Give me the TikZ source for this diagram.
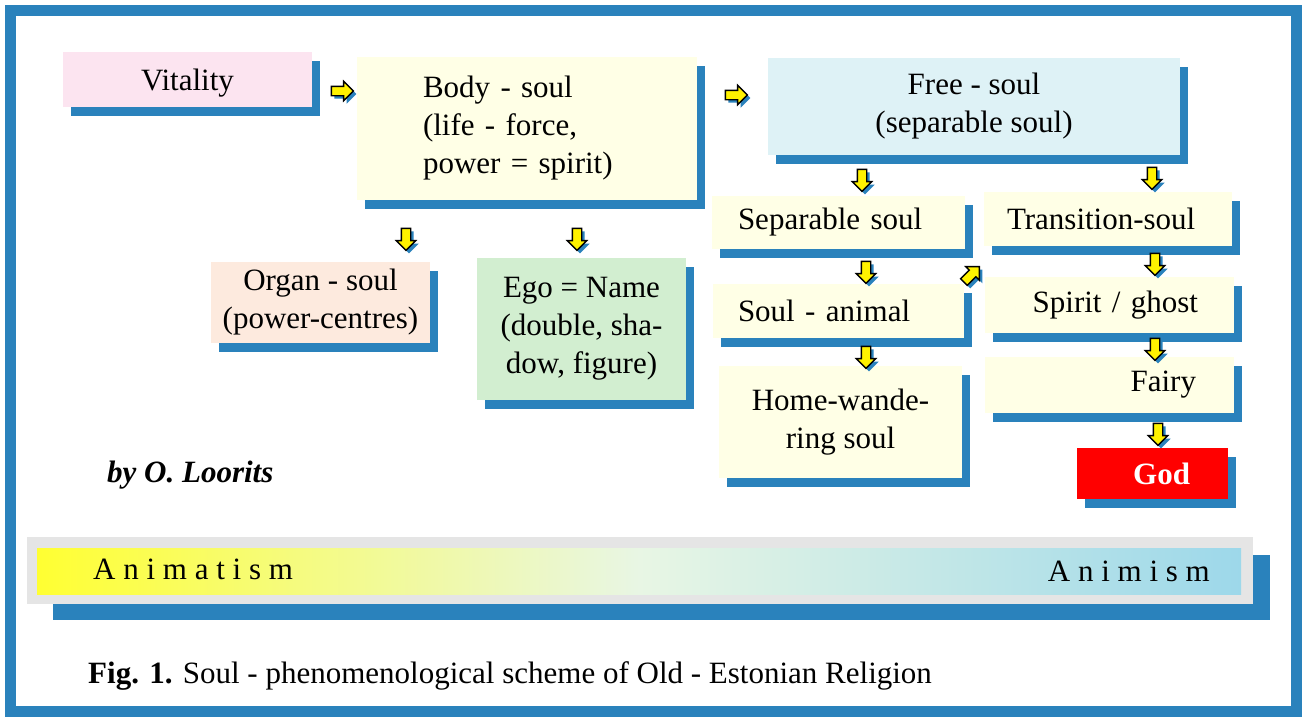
\documentclass[tikz,border=0pt]{standalone}
\usepackage{fontspec}
\setmainfont{Liberation Serif}
\usetikzlibrary{shapes.arrows,shadows}
\definecolor{sblue}{RGB}{42,130,188}
\definecolor{cpink}{RGB}{252,228,240}
\definecolor{ccream}{RGB}{255,255,230}
\definecolor{ccyan}{RGB}{222,242,246}
\definecolor{cpeach}{RGB}{253,234,222}
\definecolor{cgreen}{RGB}{210,238,208}
\definecolor{cgrey}{RGB}{229,229,229}
\definecolor{gyel}{RGB}{255,255,50}
\definecolor{gmid}{RGB}{232,246,228}
\definecolor{gblu}{RGB}{157,216,234}
\begin{document}
\begin{tikzpicture}[x=1pt,y=-1pt,
  tf/.style={font=\fontsize{31}{38}\selectfont},
  box/.style={tf, inner sep=0pt, draw=none,
    drop shadow={shadow xshift=8pt, shadow yshift=-9pt, fill=sblue, opacity=1}},
  yarr/.style={single arrow, draw=black, fill=yellow, line width=1.4pt,
    inner sep=0pt, text width=8pt, text height=8pt, text depth=0pt,
    minimum height=22pt, single arrow head extend=5pt,
    drop shadow={shadow xshift=3pt, shadow yshift=-3pt, fill=sblue, opacity=1}}
]
\useasboundingbox (0,0) rectangle (1302,720);
\fill[white] (0,0) rectangle (1302,720);
\draw[sblue, line width=11pt] (10.5,10.5) rectangle (1296,711.5);

% boxes
\node[box, fill=cpink, minimum width=249pt, minimum height=55pt, text height=28pt, text depth=6pt] (vit) at (187.5,79.5) {Vitality};
\node[box, fill=ccream, minimum width=340pt, minimum height=143pt, text width=208pt, align=left] (body) at (527,128.5)
  {Body - soul\\(life - force,\\power = spirit)};
\node[box, fill=ccyan, minimum width=412pt, minimum height=97pt, align=center] (free) at (974,106.5)
  {Free - soul\\(separable soul)};
\node[box, fill=cpeach, minimum width=219pt, minimum height=81pt, align=center] (organ) at (320.5,302.5)
  {Organ - soul\\(power-centres)};
\node[box, fill=cgreen, minimum width=209pt, minimum height=142pt, align=center] (ego) at (581.5,329)
  {Ego = Name\\(double, sha-\\dow, figure)};
\node[box, fill=ccream, minimum width=253pt, minimum height=53pt, text width=201pt, align=left] (sep) at (838.5,222.5)
  {Separable soul};
\node[box, fill=ccream, minimum width=251pt, minimum height=54pt, text width=201pt, align=left] (animal) at (838.5,311)
  {Soul - animal};
\node[box, fill=ccream, minimum width=243pt, minimum height=112pt, align=center] (home) at (840.5,422)
  {Home-wande-\\ring soul};
\node[box, fill=ccream, minimum width=248pt, minimum height=54pt, text width=202pt, align=left] (trans) at (1108,219)
  {Transition-soul};
\node[box, fill=ccream, minimum width=249pt, minimum height=56pt, text width=177pt, align=right] (spirit) at (1109.5,305)
  {Spirit / ghost};
\node[box, fill=ccream, minimum width=249pt, minimum height=56pt, text width=173pt, align=right] (fairy) at (1109.5,385)
  {Fairy};
\node[box, fill=red, text=white, font=\fontsize{31}{38}\selectfont\bfseries, minimum width=151pt, minimum height=51pt,
  text width=75pt, align=right] (god) at (1152.5,473.5) {God};

% arrows
\node[yarr] (a1) at (340,91) {};
\node[yarr] (a2) at (734,95) {};
\node[yarr, rotate=-90] (a3) at (406,237) {};
\node[yarr, rotate=-90] (a4) at (577,237) {};
\node[yarr, rotate=-90] (a5) at (862,178) {};
\node[yarr, rotate=-90] (a6) at (1152,176) {};
\node[yarr, rotate=-90] (a7) at (866,270) {};
\node[yarr, rotate=45] (a8) at (970,276) {};
\node[yarr, rotate=-90] (a9) at (866,355) {};
\node[yarr, rotate=-90] (a10) at (1155,262) {};
\node[yarr, rotate=-90] (a11) at (1155,347) {};
\node[yarr, rotate=-90] (a12) at (1158,432) {};

% author
\node[tf, font=\fontsize{31}{38}\selectfont\bfseries\itshape, anchor=west, inner sep=0pt] (author) at (107,475) {by O. Loorits};

% gradient bar
\fill[sblue] (53,555) rectangle (1270,620);
\fill[cgrey] (27,537) rectangle (1253,604);
\shade[left color=gyel, right color=gblu, middle color=gmid] (37,548) rectangle (1241,594);
\node[tf, anchor=west, inner sep=0pt] (atism) at (93,569) {A n i m a t i s m};
\node[tf, anchor=east, inner sep=0pt] (aism) at (1210,571) {A n i m i s m};

% caption
\node[tf, anchor=west, inner sep=0pt] (cap) at (88,676)
  {\textbf{Fig. 1.} Soul - phenomenological scheme of Old - Estonian Religion};
\end{tikzpicture}
\end{document}
